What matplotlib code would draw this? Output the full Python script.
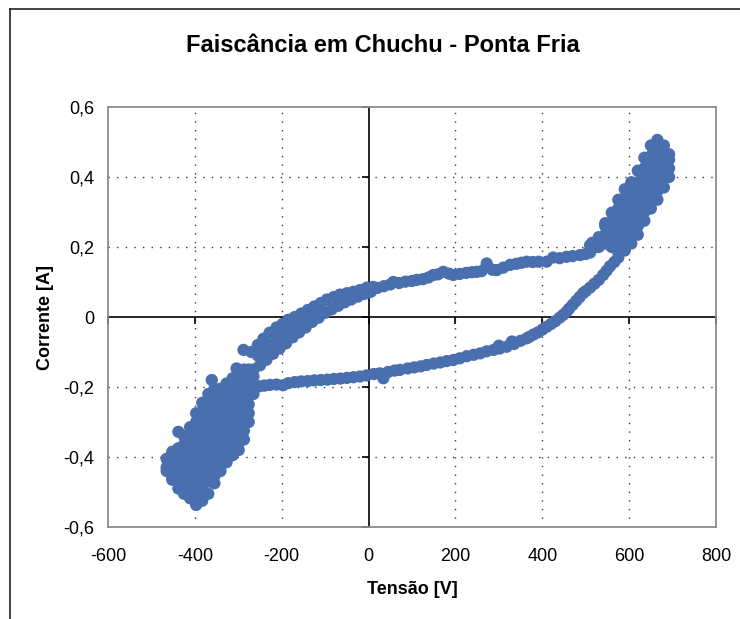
import matplotlib
matplotlib.use("Agg")
import matplotlib.pyplot as plt
from matplotlib.lines import Line2D

plt.rcParams['font.family'] = ['Liberation Sans', 'DejaVu Sans']

titulo = "Faiscância em Chuchu - Ponta Fria"
rotulo_x = "Tensão [V]"
rotulo_y = "Corrente [A]"
ticks_x = [-600, -400, -200, 0, 200, 400, 600, 800]
ticks_y = [-0.6, -0.4, -0.2, 0.0, 0.2, 0.4, 0.6]

# Ramo de subida (tensão crescente), incluindo a faixa larga perto de -200 V
tensao_subida = [
    -288, -270, -255, -242, -228, -212, -198, -185, -170, -155, -140, -125, -110, -96, -80, -66, -50, -35, -20, -4,
    -255, -240, -225, -210, -195, -180, -165, -150, -135, -120,
    -265, -250, -235, -220, -205, -190, -175, -160, -145, -130, -115, -100, -85, -70, -55, -40, -25, -10, 5,
    10, 20, 35, 50, 57, 70, 85, 100, 111, 125, 138, 149, 160, 172, 185, 195, 210, 225, 238, 249,
    260, 272, 285, 295, 310, 326, 340, 352, 364, 378, 392, 410, 425, 440, 456, 470, 487, 500, 510, 510,
]
corrente_subida = [
    -0.094, -0.100, -0.080, -0.062, -0.045, -0.030, -0.020, -0.008, 0.000, 0.010, 0.020, 0.030, 0.040, 0.050, 0.057, 0.064, 0.068, 0.072, 0.077, 0.084,
    -0.110, -0.095, -0.080, -0.062, -0.048, -0.035, -0.020, -0.008, 0.004, 0.016,
    -0.150, -0.138, -0.122, -0.105, -0.090, -0.075, -0.058, -0.044, -0.030, -0.014, -0.002, 0.012, 0.022, 0.032, 0.042, 0.050, 0.058, 0.066, 0.072,
    0.086, 0.083, 0.088, 0.093, 0.100, 0.097, 0.101, 0.103, 0.106, 0.108, 0.113, 0.120, 0.122, 0.129, 0.124, 0.120, 0.123, 0.126, 0.128, 0.129,
    0.131, 0.153, 0.135, 0.134, 0.141, 0.149, 0.152, 0.155, 0.158, 0.157, 0.158, 0.158, 0.170, 0.168, 0.172, 0.174, 0.177, 0.180, 0.184, 0.205,
]

# Ramo de descida (tensão decrescente)
tensao_descida = [
    575, 566, 556, 548, 540, 530, 520, 510, 500, 494, 486, 478, 470, 462, 456, 448, 440, 430, 420, 410,
    400, 390, 380, 370, 364, 350, 335, 330, 318, 302, 300, 288, 272, 257, 242, 226, 210, 195, 180, 165,
    150, 134, 120, 105, 90, 72, 60, 45, 34, 26, 12, -5, -20, -35, -50, -65, -80, -95, -110, -125,
    -140, -155, -170, -185, -197, -212, -227, -240, -252,
]
corrente_descida = [
    0.170, 0.157, 0.145, 0.132, 0.120, 0.106, 0.095, 0.084, 0.074, 0.068, 0.057, 0.046, 0.035, 0.024, 0.015, 0.006, -0.002, -0.012, -0.020, -0.028,
    -0.036, -0.044, -0.050, -0.057, -0.061, -0.068, -0.077, -0.070, -0.085, -0.090, -0.082, -0.094, -0.098, -0.104, -0.108, -0.112, -0.118, -0.123, -0.126, -0.130,
    -0.133, -0.137, -0.141, -0.144, -0.147, -0.151, -0.153, -0.157, -0.175, -0.161, -0.163, -0.167, -0.170, -0.172, -0.174, -0.176, -0.177, -0.179, -0.180, -0.181,
    -0.183, -0.184, -0.186, -0.189, -0.195, -0.193, -0.194, -0.196, -0.198,
]

# Aglomerado no pico negativo: uma coluna de correntes por valor de tensão
tensao_pico_neg = [-465, -452, -438, -425, -411, -397, -383, -369, -355, -341, -327, -313, -299, -287, -276, -265,
                   -438, -361, -304]
corrente_pico_neg = [
    [-0.405, -0.430, -0.440],
    [-0.385, -0.410, -0.435, -0.460, -0.465],
    [-0.375, -0.400, -0.425, -0.450, -0.475, -0.490],
    [-0.340, -0.365, -0.390, -0.415, -0.440, -0.465, -0.490, -0.505],
    [-0.315, -0.340, -0.365, -0.390, -0.415, -0.440, -0.465, -0.490, -0.518],
    [-0.275, -0.300, -0.325, -0.350, -0.375, -0.400, -0.425, -0.450, -0.475, -0.500, -0.520, -0.537],
    [-0.245, -0.270, -0.295, -0.320, -0.345, -0.370, -0.395, -0.420, -0.445, -0.470, -0.495, -0.525],
    [-0.220, -0.245, -0.270, -0.295, -0.320, -0.345, -0.370, -0.395, -0.420, -0.445, -0.470, -0.505],
    [-0.205, -0.230, -0.255, -0.280, -0.305, -0.330, -0.355, -0.380, -0.405, -0.430, -0.455, -0.475],
    [-0.205, -0.230, -0.255, -0.280, -0.305, -0.330, -0.355, -0.380, -0.405, -0.440],
    [-0.190, -0.215, -0.240, -0.265, -0.290, -0.315, -0.340, -0.365, -0.390, -0.415],
    [-0.175, -0.200, -0.225, -0.250, -0.275, -0.300, -0.325, -0.350, -0.375, -0.395],
    [-0.160, -0.185, -0.210, -0.235, -0.260, -0.285, -0.310, -0.335, -0.360, -0.380],
    [-0.150, -0.175, -0.200, -0.225, -0.250, -0.275, -0.300, -0.325, -0.350],
    [-0.150, -0.175, -0.200, -0.225, -0.250, -0.275, -0.300],
    [-0.170, -0.195, -0.220],
    [-0.328],
    [-0.180],
    [-0.147],
]

# Aglomerado no pico positivo
tensao_pico_pos = [515, 530, 545, 560, 575, 590, 605, 620, 635, 650, 665, 680, 692]
corrente_pico_pos = [
    [0.195, 0.212],
    [0.200, 0.228],
    [0.210, 0.235, 0.260, 0.268],
    [0.200, 0.225, 0.250, 0.275, 0.298],
    [0.185, 0.210, 0.235, 0.260, 0.285, 0.310, 0.335],
    [0.190, 0.215, 0.240, 0.265, 0.290, 0.315, 0.340, 0.365],
    [0.210, 0.235, 0.260, 0.285, 0.310, 0.335, 0.360, 0.385],
    [0.235, 0.260, 0.285, 0.310, 0.335, 0.360, 0.385, 0.418],
    [0.275, 0.300, 0.325, 0.350, 0.375, 0.400, 0.425, 0.455],
    [0.310, 0.335, 0.360, 0.385, 0.410, 0.435, 0.460, 0.490],
    [0.335, 0.360, 0.385, 0.410, 0.435, 0.460, 0.485, 0.506],
    [0.370, 0.395, 0.420, 0.445, 0.470, 0.490],
    [0.400, 0.425, 0.450, 0.465],
]


def expandir(tensoes, colunas):
    xs, ys = [], []
    for v, col in zip(tensoes, colunas):
        for c in col:
            xs.append(v)
            ys.append(c)
    return xs, ys


xs_neg, ys_neg = expandir(tensao_pico_neg, corrente_pico_neg)
xs_pos, ys_pos = expandir(tensao_pico_pos, corrente_pico_pos)

cor = '#4a6fae'
W, H = 740, 619
fig = plt.figure(figsize=(W / 100, H / 100), dpi=100)
ax = fig.add_axes([108 / W, 1 - 527 / H, 608 / W, 420 / H])
ax.set_xlim(-600, 800)
ax.set_ylim(-0.6, 0.6)

# grade pontilhada
for gx in [-400, -200, 200, 400, 600]:
    ax.axvline(gx, color='#3a3a3a', lw=1.0, ls=(0, (1, 5.2)), zorder=1)
for gy in [-0.4, -0.2, 0.2, 0.4]:
    ax.axhline(gy, color='#3a3a3a', lw=1.0, ls=(0, (1, 5.2)), zorder=1)

# eixos cruzando na origem, com marcas
ax.axhline(0, color='black', lw=1.2, zorder=2)
ax.axvline(0, color='black', lw=1.2, zorder=2)
ax.plot(ticks_x, [0] * len(ticks_x), ls='none', marker=3, ms=5, mew=1.2, color='black', zorder=2, clip_on=False)
ax.plot([0] * len(ticks_y), ticks_y, ls='none', marker=0, ms=5, mew=1.2, color='black', zorder=2, clip_on=False)

pontos_x = tensao_subida + tensao_descida + xs_neg + xs_pos
pontos_y = corrente_subida + corrente_descida + ys_neg + ys_pos
ax.scatter(pontos_x, pontos_y, s=78, color=cor, edgecolors='none', zorder=3)

ax.set_xticks(ticks_x)
ax.set_yticks(ticks_y)
ax.set_xticklabels([str(v) for v in ticks_x])
ax.set_yticklabels(['0' if v == 0 else f"{v:.1f}".replace('.', ',') for v in ticks_y])
ax.tick_params(axis='x', length=0, labelsize=13, pad=15)
ax.tick_params(axis='y', length=0, labelsize=13, pad=10)
for s in ax.spines.values():
    s.set_color('#8c8c8c')
    s.set_linewidth(1.3)

fig.text(383 / W, 1 - 46 / H, titulo, ha='center', va='center', fontsize=17, fontweight='bold')
fig.text(412 / W, 1 - 590 / H, rotulo_x, ha='center', va='center', fontsize=13, fontweight='bold')
fig.text(45 / W, 1 - 318 / H, rotulo_y, ha='center', va='center', fontsize=13, fontweight='bold', rotation=90)

# moldura do gráfico
fig.add_artist(Line2D([10 / W, 10 / W], [0, 1 - 9 / H], color='#222222', lw=1.2))
fig.add_artist(Line2D([10 / W, 1], [1 - 9 / H, 1 - 9 / H], color='#222222', lw=1.2))

fig.savefig('out.png', dpi=100)
